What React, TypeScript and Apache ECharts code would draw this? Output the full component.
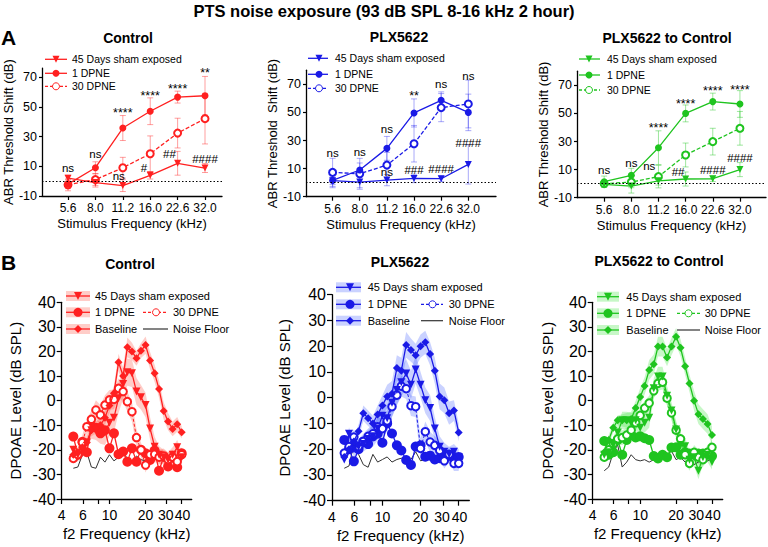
import React, { useEffect, useRef } from "react";
import * as echarts from "echarts";

const FONT = "'Liberation Sans', Arial, Helvetica, sans-serif";
const RED = "#ff2020";
const BLUE = "#1a1ae6";
const GREEN = "#1fc41f";

// ---------- Panel A : ABR threshold shift ----------
const abrFreqLabels = ["5.6", "8.0", "11.2", "16.0", "22.6", "32.0"];
const abrYTicks = [-10, 10, 30, 50, 70];

// Control
const ctrlSham = [2, -1, -3, 3.9, 12, 8.8];
const ctrlShamErr = [2, 3, 4, 2.5, 8, 3];
const ctrlD1 = [-2, 9, 35.7, 47, 56.5, 57.4];
const ctrlD1Err = [3, 4, 8.4, 9, 4, 13];
const ctrlD30 = [-2.5, 1, 9, 18.4, 32.3, 42];
const ctrlD30Err = [4, 4, 7, 12, 10, 17];
const ctrlSig: [number, number, string][] = [
  [0, 8.8, "ns"], [1, 18.4, "ns"], [2, 45.6, "****"], [1.85, 3.4, "ns"],
  [3, 57.2, "****"], [2.77, 8.8, "#"], [4, 61.7, "****"], [3.7, 18.4, "##"],
  [5, 72.9, "**"], [5, 14.6, "####"],
];

// PLX5622
const plxSham = [1.4, 0.4, 1.8, 3, 2.8, 13];
const plxShamErr = [5, 4, 4, 3, 2, 14];
const plxD1 = [1.6, 9, 24.4, 49.6, 58.6, 50];
const plxD1Err = [3, 5, 8.5, 10, 6, 13];
const plxD30 = [7.3, 6.3, 12.5, 27.7, 53.4, 56];
const plxD30Err = [10, 11, 9, 13, 10, 17];
const plxSig: [number, number, string][] = [
  [0, 21.3, "ns"], [1, 22, "ns"], [2, 38, "ns"], [2, 7.3, "ns"],
  [3, 62, "**"], [3, 9.2, "###"], [4, 70, "ns"], [4, 9.7, "####"],
  [5, 76.2, "ns"], [5, 28.2, "####"],
];

// PLX5622 to Control
const p2cSham = [-0.5, -1.7, 2, 3.3, 3.5, 10];
const p2cShamErr = [2, 5, 3, 5, 2, 5];
const p2cD1 = [1.4, 5.9, 25.6, 50, 58.4, 56.7];
const p2cD1Err = [4, 5, 12, 6, 6, 9.5];
const p2cD30 = [0, 1.1, 5, 20.4, 29.9, 39.4];
const p2cD30Err = [2, 4, 8, 8.5, 9.5, 12];
const p2cSig: [number, number, string][] = [
  [0, 9.7, "ns"], [1, 14.4, "ns"], [1.66, 12.8, "ns"], [2, 39.4, "****"],
  [3, 56.7, "****"], [2.72, 8.5, "##"], [4, 65.8, "****"], [4, 9.7, "####"],
  [5, 67, "****"], [5, 18, "####"],
];

// ---------- Panel B : DPOAE ----------
const dpFreqs = [5.0, 5.45, 5.95, 6.48, 7.07, 7.71, 8.41, 9.17, 10.0, 10.9, 11.9, 13.0, 14.1, 15.4, 16.8, 18.3, 20.0, 21.8, 23.8, 25.9, 28.3, 30.8, 33.6, 36.7, 40.0];
const dpXLabels = [4, 6, 10, 20, 30, 40];
const dpXTicks = [4, 6, 8, 10, 20, 30, 40];

// Control
const cBase = [-22, -21, -19, -17, -12, -11, -10, -7, -2, 3, 15.6, 10, 21.7, 20, 17.2, 20.3, 22.6, 16.3, 11.1, 4.7, -4.2, -8.5, -11.5, -9.6, -12.9];
const cBaseSem = [2, 2, 2, 2, 2.5, 2.5, 3, 3, 3, 3, 3.5, 3.5, 4, 3.5, 3, 3, 3.5, 3.5, 3.5, 3.5, 3.5, 3.5, 3, 3, 2.5];
const cSham = [-20, -22, -20, -17, -12, -12, -13, -13, -9, -7, 1, 6.8, 11.6, 11.1, 3.7, 1.4, -1.8, -11.3, -18.7, -22, -23, -24, -22, -19, -23];
const cShamSem = [2, 2.5, 3, 3, 3.5, 4, 4.5, 5, 5.5, 6, 6, 6, 5.5, 5.5, 5.5, 5, 5, 4.5, 4, 3.5, 3, 3, 3, 3, 2.5];
const cD1 = [-14.6, -22, -16.7, -21, -10.3, -11, -13.3, -12, -19.4, -13.3, -21.8, -20.7, -24.8, -19.4, -24.8, -20, -21.4, -24.1, -20.3, -28.5, -22.8, -26.8, -23.2, -27.1, -21.4];
const cD30 = [-23.5, -22, -17, -10.6, -7.6, -3.8, -5.8, -1.8, 0.3, 0.5, 5, 3.7, -0.4, -4.5, -15, -20, -26.2, -22, -21.8, -23, -22.5, -24, -23, -24.8, -22];
const cD30Sem = [2, 2.5, 3, 3, 3.5, 4, 4, 4, 4, 4, 4, 4, 4, 4, 3.5, 3, 3, 3, 3, 3, 3, 3, 3, 3, 3];
const cNoise = [-27.5, -27, -22, -21, -27, -27.5, -23, -25, -22, -24.5, -23, -21, -23.5, -25, -22.5, -24, -24.5, -21.5, -23, -24, -24.5, -23, -22, -23.5, -24];

// PLX5622
const pBase = [-23, -20, -17, -13, -6, -8, -10, -6.5, -3, 0.5, 1.5, 11.5, 10.5, 20.5, 18.5, 16.5, 20, 21.5, 17, 10.5, 0.5, -1, -6, -5, -13.5];
const pBaseSem = [2, 2, 2, 2.5, 3, 3, 3, 3.5, 4, 4.5, 5, 5, 5, 5, 4.5, 4.5, 4.5, 4.5, 4.5, 5, 5, 5, 4.5, 4, 3.5];
const pSham = [-24, -14, -20, -19, -18, -16, -15, -12, -7, -8, -2, 3, 6, 9.4, 5, 11, 5, -1, -4, -12, -19, -21, -22, -21, -23];
const pShamSem = [2, 2.5, 3, 3, 3, 3.5, 4, 4.5, 5, 5, 5.5, 5.5, 5.5, 5.5, 5.5, 5.5, 5, 5, 5, 4.5, 4, 3.5, 3, 3, 3];
const pD1 = [-16.4, -20, -24.7, -20, -17, -18, -15, -14, -17.5, -10, -13.9, -18.5, -20.5, -24.2, -26.1, -19, -18.5, -22.9, -22.5, -24, -23.5, -23, -22.5, -23.5, -23];
const pD30 = [-21.5, -19, -15.3, -19, -17, -15, -14, -11.3, -12, -9, -3.5, 1, 4.5, 3.5, -3.1, -3.5, -19.7, -13.2, -17.2, -18.5, -20.5, -24.5, -22, -25.5, -25.5];
const pD30Sem = [2, 2.5, 3, 3, 3, 3, 3.5, 3.5, 4, 4, 4, 4, 4, 4, 4, 4, 4, 4, 4, 3.5, 3.5, 3, 3, 3, 3];
const pNoise = [-27.4, -26.5, -18, -22, -26, -27, -22, -25, -24, -23, -25, -24, -23.5, -24.5, -24, -21, -24.5, -24, -23, -24, -25, -24, -24, -23.5, -24];

// PLX5622 to Control
const gBase = [-21, -16, -11, -8, -8, -8, -7.5, -3, 1.5, 6, 12.5, 14.8, 22, 22, 17.5, 22, 26, 21.5, 14, 7, 0, -5.5, -7.5, -9.5, -14];
const gBaseSem = [2, 2, 2, 2, 2.5, 3, 3, 3, 3.5, 3.5, 4, 4, 4, 4, 3.5, 3.5, 3.5, 3.5, 3.5, 3.5, 4, 4, 4, 4, 3.5];
const gSham = [-22, -21, -18, -13, -8, -8, -9, -8, -11, -9, -7, 5, 9.8, 9.8, 2, -4, -11.7, -18, -18.5, -24, -23, -28.5, -23, -22, -25];
const gShamSem = [2, 2.5, 3, 3, 3.5, 3.5, 4, 4, 4, 4, 4, 4, 4, 4, 4, 3.5, 3.5, 3.5, 3.5, 3.5, 3.5, 3.5, 3, 3, 3];
const gD1 = [-16.4, -22, -21, -16, -22, -16, -14, -15, -14.5, -15.3, -16, -22.5, -23.5, -22, -23, -19.1, -19, -22, -21, -21.5, -22, -21.5, -21.5, -22, -22.5];
const gD30 = [-23, -20, -17.5, -15.5, -15, -14, -12, -9, -6, -3, -1, 4, 7, 7.5, 1, -5, -12, -15.5, -22, -25.5, -21, -23, -24, -21, -19];
const gD30Sem = [2, 2, 2.5, 2.5, 3, 3, 3, 3, 3, 3, 3, 3, 3, 3, 3, 3, 3, 3, 3, 3, 3, 3, 3, 3, 3];
const gNoise = [-28.5, -27, -21, -18, -27, -25, -22, -24, -24.5, -24, -25, -24, -23, -23.5, -22, -20.5, -24, -23, -25, -24, -26, -25, -24, -24.5, -23.5];

// ---------- layout ----------
const dpXLabelDx = [0, 0, 0, 0, -0.9, 0.9];

const aPanels = [
  {
    title: "Control", tx: 128, ty: 38, color: RED, err: "rgba(255,40,40,0.45)",
    sham: ctrlSham, shamErr: ctrlShamErr, d1: ctrlD1, d1Err: ctrlD1Err, d30: ctrlD30, d30Err: ctrlD30Err, sig: ctrlSig,
    grid: { left: 42, top: 68.1, width: 180, height: 127.9 }, xMin: -0.95, xMax: 5.62, yMax: 76,
    yName: "ABR Threshold Shift (dB)",
    leg: { rows: [59.3, 73.3, 86.3], x1: 45, x2: 67, mx: 56, tx: 72 },
  },
  {
    title: "PLX5622", tx: 399, ty: 37, color: BLUE, err: "rgba(40,40,240,0.4)",
    sham: plxSham, shamErr: plxShamErr, d1: plxD1, d1Err: plxD1Err, d30: plxD30, d30Err: plxD30Err, sig: plxSig,
    grid: { left: 306, top: 70.25, width: 190, height: 126.45 }, xMin: -0.98, xMax: 6.02, yMax: 80,
    yName: "ABR Threshold  Shift (dB)",
    leg: { rows: [58.3, 74.3, 88.3], x1: 308, x2: 328, mx: 319, tx: 335 },
  },
  {
    title: "PLX5622 to Control", tx: 667, ty: 38, color: GREEN, err: "rgba(40,200,40,0.45)",
    sham: p2cSham, shamErr: p2cShamErr, d1: p2cD1, d1Err: p2cD1Err, d30: p2cD30, d30Err: p2cD30Err, sig: p2cSig,
    grid: { left: 577, top: 71.25, width: 189, height: 126.45 }, xMin: -1.0, xMax: 5.96, yMax: 80,
    yName: "ABR Threshold Shift (dB)",
    leg: { rows: [59, 75, 90], x1: 579, x2: 600, mx: 589, tx: 607 },
  },
];

const L4 = Math.log10(4);
const bPanels = [
  {
    title: "Control", tx: 130, ty: 264, color: RED, band: "rgba(255,70,50,0.27)",
    base: cBase, baseSem: cBaseSem, sham: cSham, shamSem: cShamSem, d1: cD1, d30: cD30, d30Sem: cD30Sem, noise: cNoise,
    grid: { left: 61.7, top: 302.3, width: 130, height: 196.7 }, xMax: L4 + 130 / 120, yGap: 39,
    leg: { rows: [296, 312.3, 329], x1: 66, x2: 90, mx: 78, tx: 95, c2x1: 143, c2x2: 168, c2mx: 156, c2tx: 173 },
  },
  {
    title: "PLX5622", tx: 400, ty: 262, color: BLUE, band: "rgba(60,90,255,0.27)",
    base: pBase, baseSem: pBaseSem, sham: pSham, shamSem: pShamSem, d1: pD1, d30: pD30, d30Sem: pD30Sem, noise: pNoise,
    grid: { left: 332, top: 294.7, width: 137.3, height: 206 }, xMax: L4 + 137.3 / 126.7, yGap: 40,
    leg: { rows: [287.3, 304.3, 320.7], x1: 336, x2: 361, mx: 350, tx: 367.7, c2x1: 421, c2x2: 443, c2mx: 432.5, c2tx: 448.7 },
  },
  {
    title: "PLX5622 to Control", tx: 659, ty: 261, color: GREEN, band: "rgba(70,230,70,0.3)",
    base: gBase, baseSem: gBaseSem, sham: gSham, shamSem: gShamSem, d1: gD1, d30: gD30, d30Sem: gD30Sem, noise: gNoise,
    grid: { left: 592.7, top: 302.3, width: 130, height: 196.7 }, xMax: L4 + 130 / 119.3, yGap: 38,
    leg: { rows: [296.7, 313.3, 330], x1: 597, x2: 619, mx: 608, tx: 626.3, c2x1: 677, c2x2: 700, c2mx: 688.5, c2tx: 704.7 },
  },
];

function errRender(color: string) {
  return (params: any, api: any) => {
    const x = api.value(0);
    const lo = api.coord([x, api.value(1)]);
    const hi = api.coord([x, api.value(2)]);
    const w = 3;
    const st = { stroke: color, lineWidth: 1 };
    return {
      type: "group",
      children: [
        { type: "line", shape: { x1: lo[0], y1: lo[1], x2: hi[0], y2: hi[1] }, style: st },
        { type: "line", shape: { x1: lo[0] - w, y1: lo[1], x2: lo[0] + w, y2: lo[1] }, style: st },
        { type: "line", shape: { x1: hi[0] - w, y1: hi[1], x2: hi[0] + w, y2: hi[1] }, style: st },
      ],
    };
  };
}

function bandRender(xs: number[], mean: number[], sem: number[], color: string) {
  return (params: any, api: any) => {
    if (params.dataIndex !== 0) return null;
    const up = xs.map((x, i) => api.coord([x, mean[i] + sem[i]]));
    const lo = xs.map((x, i) => api.coord([x, mean[i] - sem[i]])).reverse();
    return { type: "polygon", shape: { points: up.concat(lo) }, style: { fill: color } };
  };
}

function sigRender(labels: string[]) {
  return (params: any, api: any) => {
    const c = api.coord([api.value(0), api.value(1)]);
    const t = labels[params.dataIndex];
    const star = t.indexOf("*") >= 0;
    return {
      type: "text", x: c[0], y: c[1],
      style: {
        text: t, fill: "#000", font: `${star ? 12.5 : 11.5}px ${FONT}`,
        align: "center", verticalAlign: "middle", textAlign: "center", textVerticalAlign: "middle",
      },
    };
  };
}

// tick labels of the log frequency axis, placed through the axis scale
function xLabelRender(labels: number[], dx: number[], gap: number) {
  return (params: any, api: any) => {
    const c = api.coord([api.value(0), api.value(1)]);
    return {
      type: "text", x: c[0] + dx[params.dataIndex], y: c[1] + gap,
      style: {
        text: String(labels[params.dataIndex]), fill: "#000", font: `14px ${FONT}`,
        align: "center", verticalAlign: "top", textAlign: "center", textVerticalAlign: "top",
      },
    };
  };
}

function txt(x: number, y: number, text: string, font: string, align = "left") {
  return {
    type: "text", x, y, silent: true, z: 20,
    style: { text, fill: "#000", font, align, verticalAlign: "middle", textAlign: align, textVerticalAlign: "middle" },
  };
}

function marker(kind: string, cx: number, cy: number, s: number, color: string): any {
  if (kind === "tri")
    return { type: "polygon", shape: { points: [[cx - s / 2, cy - s / 2], [cx + s / 2, cy - s / 2], [cx, cy + s / 2]] }, style: { fill: color }, z: 21, silent: true };
  if (kind === "dot") return { type: "circle", shape: { cx, cy, r: s / 2 }, style: { fill: color }, z: 21, silent: true };
  if (kind === "ring") return { type: "circle", shape: { cx, cy, r: s / 2 }, style: { fill: "#fff", stroke: color, lineWidth: 1 }, z: 21, silent: true };
  if (kind === "diamond")
    return { type: "polygon", shape: { points: [[cx, cy - s / 2], [cx + s / 2, cy], [cx, cy + s / 2], [cx - s / 2, cy]] }, style: { fill: color }, z: 21, silent: true };
  return null;
}

function legendItem(x1: number, x2: number, mx: number, y: number, color: string, kind: string, s: number,
  dashed: boolean, text: string, tx: number, font: string, band?: string) {
  const els: any[] = [];
  if (band) els.push({ type: "rect", shape: { x: x1, y: y - 5, width: x2 - x1, height: 10 }, style: { fill: band }, z: 19, silent: true });
  els.push({ type: "line", shape: { x1, y1: y, x2, y2: y }, style: { stroke: color, lineWidth: kind === "none" ? 1.2 : 1.3, lineDash: dashed ? [3, 2] : null }, z: 20, silent: true });
  const m = marker(kind, mx, y, s, color);
  if (m) els.push(m);
  els.push(txt(tx, y, text, font));
  return els;
}

function buildOption() {
  const grid: any[] = [];
  const xAxis: any[] = [];
  const yAxis: any[] = [];
  const series: any[] = [];
  const graphic: any[] = [];
  const axisLine = { show: true, onZero: false, lineStyle: { color: "#000", width: 1.3 } };

  graphic.push(txt(384, 11, "PTS noise exposure (93 dB SPL 8-16 kHz 2 hour)", `bold 16.5px ${FONT}`, "center"));
  graphic.push(txt(1, 37, "A", `bold 21px ${FONT}`));
  graphic.push(txt(1, 262, "B", `bold 21px ${FONT}`));

  aPanels.forEach((p, i) => {
    grid.push({ ...p.grid, containLabel: false });
    xAxis.push({
      type: "value", gridIndex: i, min: p.xMin, max: p.xMax,
      name: "Stimulus Frequency (kHz)", nameLocation: "middle", nameGap: 21,
      nameTextStyle: { fontSize: 13, color: "#000", fontFamily: FONT },
      axisLine, splitLine: { show: false },
      axisTick: { show: true, customValues: [0, 1, 2, 3, 4, 5], length: 4, lineStyle: { color: "#000", width: 1.2 } },
      axisLabel: { customValues: [0, 1, 2, 3, 4, 5], formatter: (v: number) => abrFreqLabels[Math.round(v)] ?? "", fontSize: 12, color: "#000", margin: 6, fontFamily: FONT, hideOverlap: false },
    });
    yAxis.push({
      type: "value", gridIndex: i, min: -10, max: p.yMax,
      name: p.yName, nameLocation: "middle", nameGap: 24,
      nameTextStyle: { fontSize: 13, color: "#000", fontFamily: FONT },
      axisLine, splitLine: { show: false },
      axisTick: { show: true, customValues: abrYTicks, length: 3, lineStyle: { color: "#000", width: 1.2 } },
      axisLabel: { customValues: abrYTicks, fontSize: 12.5, color: "#000", margin: 5, fontFamily: FONT },
    });
    const idx = (v: number[]) => v.map((y, j) => [j, y]);
    const errData = (v: number[], e: number[]) => v.map((y, j) => [j, y - e[j], y + e[j]]);
    [[p.d30, p.d30Err], [p.d1, p.d1Err], [p.sham, p.shamErr]].forEach(([v, e]) => {
      series.push({
        type: "custom", xAxisIndex: i, yAxisIndex: i, data: errData(v, e), encode: { x: 0, y: [1, 2] },
        renderItem: errRender(p.err), silent: true, z: 1,
      });
    });
    series.push({
      type: "line", name: "30 DPNE", xAxisIndex: i, yAxisIndex: i, data: idx(p.d30),
      symbol: "emptyCircle", symbolSize: 7, lineStyle: { color: p.color, width: 1.3, type: [4, 2] },
      itemStyle: { color: p.color, borderWidth: 1 }, z: 3, silent: true,
      markLine: {
        silent: true, symbol: ["none", "none"], label: { show: false },
        lineStyle: { color: "#000", type: [1.5, 2], width: 1 }, data: [{ yAxis: 0 }],
      },
    });
    series.push({
      type: "line", name: "1 DPNE", xAxisIndex: i, yAxisIndex: i, data: idx(p.d1),
      symbol: "circle", symbolSize: 7, lineStyle: { color: p.color, width: 1.3 }, itemStyle: { color: p.color }, z: 4, silent: true,
    });
    series.push({
      type: "line", name: "45 Days sham exposed", xAxisIndex: i, yAxisIndex: i, data: idx(p.sham),
      symbol: "triangle", symbolRotate: 180, symbolSize: 7, lineStyle: { color: p.color, width: 1.3 }, itemStyle: { color: p.color }, z: 4, silent: true,
    });
    series.push({
      type: "custom", xAxisIndex: i, yAxisIndex: i, data: p.sig.map((s) => [s[0], s[1]]), encode: { x: 0, y: 1 },
      renderItem: sigRender(p.sig.map((s) => s[2])), silent: true, z: 6,
    });
    graphic.push(txt(p.tx, p.ty, p.title, `bold 14px ${FONT}`, "center"));
    const f = `10.5px ${FONT}`;
    const lg = p.leg;
    graphic.push(...legendItem(lg.x1, lg.x2, lg.mx, lg.rows[0], p.color, "tri", 7, false, "45 Days sham exposed", lg.tx, f));
    graphic.push(...legendItem(lg.x1, lg.x2, lg.mx, lg.rows[1], p.color, "dot", 7, false, "1 DPNE", lg.tx, f));
    graphic.push(...legendItem(lg.x1, lg.x2, lg.mx, lg.rows[2], p.color, "ring", 7, true, "30 DPNE", lg.tx, f));
  });

  const xs = dpFreqs.map((v) => Math.log10(v));
  bPanels.forEach((p, k) => {
    const i = k + 3;
    grid.push({ ...p.grid, containLabel: false });
    xAxis.push({
      type: "value", gridIndex: i, min: L4, max: p.xMax,
      name: "f2 Frequency (kHz)", nameLocation: "middle", nameGap: 27,
      nameTextStyle: { fontSize: 15, color: "#000", fontFamily: FONT },
      axisLine, splitLine: { show: false },
      axisTick: { show: true, customValues: dpXTicks.map((v) => Math.log10(v)), length: 5, lineStyle: { color: "#000", width: 1.2 } },
      axisLabel: { show: false },
    });
    yAxis.push({
      type: "value", gridIndex: i, min: -40, max: 40, interval: 10,
      name: "DPOAE Level (dB SPL)", nameLocation: "middle", nameGap: p.yGap,
      nameTextStyle: { fontSize: 15, color: "#000", fontFamily: FONT },
      axisLine, splitLine: { show: false },
      axisTick: { show: true, length: 5, lineStyle: { color: "#000", width: 1.2 } },
      axisLabel: { fontSize: 16, color: "#000", margin: 6, fontFamily: FONT },
    });
    series.push({
      type: "custom", xAxisIndex: i, yAxisIndex: i, clip: false,
      data: dpXLabels.map((v) => [Math.log10(v), -40]), encode: { x: 0, y: 1 },
      renderItem: xLabelRender(dpXLabels, dpXLabelDx, 9), silent: true, z: 6,
    });
    const pts = (v: number[]) => xs.map((x, j) => [x, v[j]]);
    [[p.sham, p.shamSem], [p.d30, p.d30Sem], [p.base, p.baseSem]].forEach(([m, s]) => {
      series.push({
        type: "custom", xAxisIndex: i, yAxisIndex: i, data: xs.map((x, j) => [x, m[j] - s[j], m[j] + s[j]]),
        encode: { x: 0, y: [1, 2] }, renderItem: bandRender(xs, m, s, p.band), silent: true, z: 1,
      });
    });
    series.push({
      type: "line", xAxisIndex: i, yAxisIndex: i, data: pts(p.noise), showSymbol: false,
      lineStyle: { color: "#333", width: 1 }, z: 2, silent: true,
    });
    series.push({
      type: "line", xAxisIndex: i, yAxisIndex: i, data: pts(p.d1), symbol: "circle", symbolSize: 10,
      lineStyle: { color: p.color, width: 1.3 }, itemStyle: { color: p.color }, z: 3, silent: true,
    });
    series.push({
      type: "line", xAxisIndex: i, yAxisIndex: i, data: pts(p.d30), symbol: "emptyCircle", symbolSize: 7.5,
      lineStyle: { color: p.color, width: 1, type: [3, 2] }, itemStyle: { color: p.color, borderWidth: 1 }, z: 4, silent: true,
    });
    series.push({
      type: "line", xAxisIndex: i, yAxisIndex: i, data: pts(p.sham), symbol: "triangle", symbolRotate: 180, symbolSize: 8,
      lineStyle: { color: p.color, width: 1.3 }, itemStyle: { color: p.color }, z: 4, silent: true,
    });
    series.push({
      type: "line", xAxisIndex: i, yAxisIndex: i, data: pts(p.base), symbol: "diamond", symbolSize: 8,
      lineStyle: { color: p.color, width: 1.3 }, itemStyle: { color: p.color }, z: 5, silent: true,
    });
    graphic.push(txt(p.tx, p.ty, p.title, `bold 14px ${FONT}`, "center"));
    const f = `11px ${FONT}`;
    const lg = p.leg;
    graphic.push(...legendItem(lg.x1, lg.x2, lg.mx, lg.rows[0], p.color, "tri", 8, false, "45 Days sham exposed", lg.tx, f, p.band));
    graphic.push(...legendItem(lg.x1, lg.x2, lg.mx, lg.rows[1], p.color, "dot", 9, false, "1 DPNE", lg.tx, f, p.band));
    graphic.push(...legendItem(lg.x1, lg.x2, lg.mx, lg.rows[2], p.color, "diamond", 8, false, "Baseline", lg.tx, f, p.band));
    graphic.push(...legendItem(lg.c2x1, lg.c2x2, lg.c2mx, lg.rows[1], p.color, "ring", 7, true, "30 DPNE", lg.c2tx, f));
    graphic.push(...legendItem(lg.c2x1, lg.c2x2, lg.c2mx, lg.rows[2], "#333", "none", 0, false, "Noise Floor", lg.c2tx, f));
  });

  return {
    animation: false,
    backgroundColor: "#fff",
    textStyle: { fontFamily: FONT },
    grid, xAxis, yAxis, series, graphic,
  };
}

export default function App() {
  const ref = useRef<HTMLDivElement>(null);
  useEffect(() => {
    const chart = echarts.init(ref.current!, undefined, { renderer: "svg" });
    chart.setOption(buildOption() as any);
    return () => chart.dispose();
  }, []);
  return <div ref={ref} style={{ position: "fixed", left: 0, top: 0, width: 768, height: 547, background: "#fff" }} />;
}
